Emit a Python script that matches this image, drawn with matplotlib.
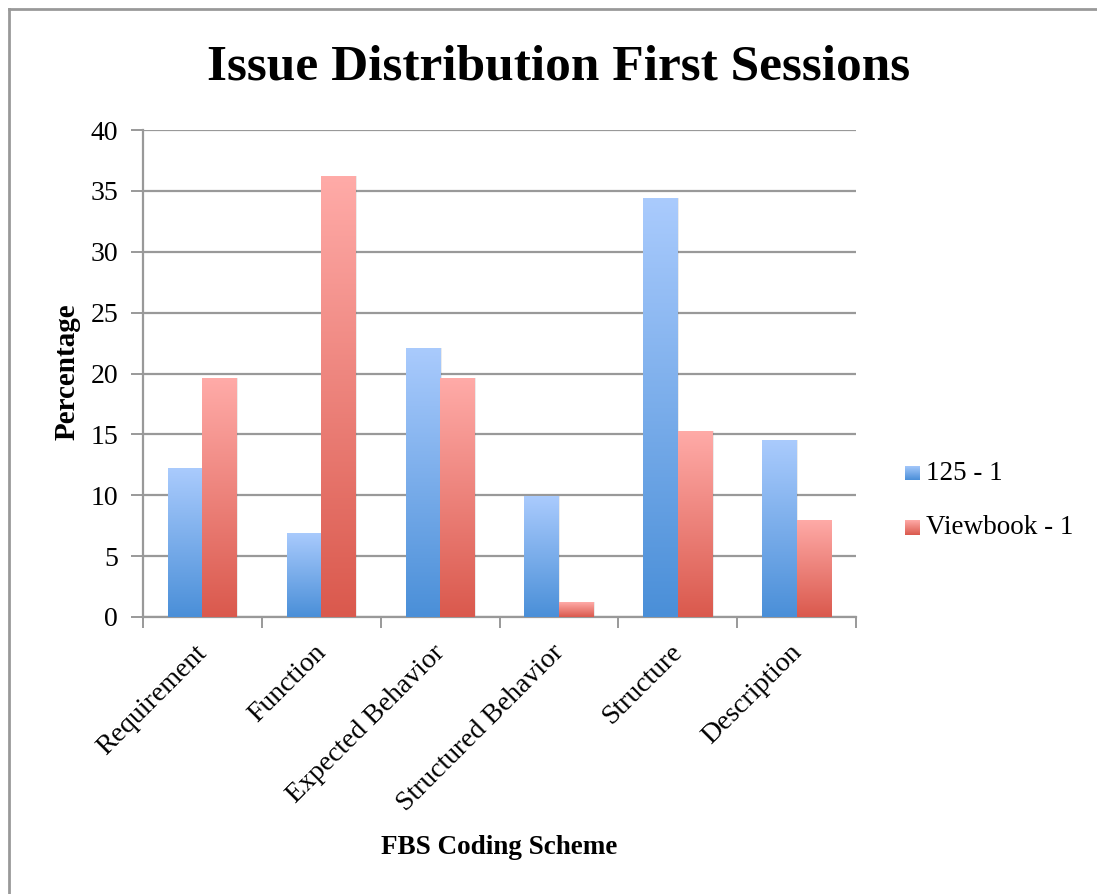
import numpy as np
import matplotlib
matplotlib.use('Agg')
import matplotlib.pyplot as plt
import matplotlib.transforms as mtransforms
from matplotlib.colors import LinearSegmentedColormap
from matplotlib.patches import Rectangle
from matplotlib.lines import Line2D

categories = ['Requirement', 'Function', 'Expected Behavior', 'Structured Behavior', 'Structure', 'Description']
series_125 = [12.2, 6.9, 22.1, 9.9, 34.4, 14.5]
series_viewbook = [19.6, 36.2, 19.6, 1.2, 15.3, 8.0]
series_names = ['125 - 1', 'Viewbook - 1']

plt.rcParams['font.family'] = ['Liberation Serif', 'DejaVu Serif']

blue_cmap = LinearSegmentedColormap.from_list('b', ['#4a8fd8', '#aacbfd'])
red_cmap = LinearSegmentedColormap.from_list('r', ['#da594d', '#ffaba8'])

fig = plt.figure(figsize=(10.97, 8.94), dpi=100)
ax = fig.add_axes([143 / 1097, 1 - 617 / 894, (856 - 143) / 1097, (617 - 130) / 894])

x = np.arange(len(categories))
w = 0.29
grad = np.linspace(0, 1, 256).reshape(-1, 1)

def gradient_bars(xs, vals, cmap, label):
    bars = ax.bar(xs, vals, w, color='none', edgecolor='none', label=label, zorder=3)
    for b in bars:
        x0, y0 = b.get_x(), b.get_y()
        bw, bh = b.get_width(), b.get_height()
        # soft shadow to the right
        ax.add_patch(Rectangle((x0 + 0.012, y0), bw, bh, color='#000000', alpha=0.08, zorder=2, lw=0))
        im = ax.imshow(grad, cmap=cmap, origin='lower', aspect='auto',
                       extent=(x0, x0 + bw, y0, y0 + bh), zorder=3)
        im.set_clip_path(b)
    return bars

gradient_bars(x - w / 2, series_125, blue_cmap, series_names[0])
gradient_bars(x + w / 2, series_viewbook, red_cmap, series_names[1])

ax.set_xlim(-0.5, len(categories) - 0.5)
ax.set_ylim(0, 40)
ax.set_yticks(range(0, 41, 5))
ax.yaxis.grid(True, color='#999999', linewidth=1.6, zorder=0)
ax.set_axisbelow(True)

# category labels, rotated 45 deg and anchored at their right end under each group
ax.set_xticks(x)
ax.set_xticklabels([''] * len(categories))
label_tf = ax.get_xaxis_transform() + mtransforms.ScaledTranslation(0.01, -0.32, fig.dpi_scale_trans)
for xi, name in zip(x, categories):
    ax.text(xi, 0, name, transform=label_tf, rotation=45, ha='right', va='center',
            rotation_mode='anchor', fontsize=20)
ax.set_xticks(np.arange(-0.5, len(categories)), minor=True)
ax.tick_params(axis='x', which='major', length=0)
ax.tick_params(axis='x', which='minor', length=8, width=1.4, color='#999999', direction='out')
ax.tick_params(axis='y', length=9, width=1.4, color='#999999', labelsize=20, pad=9)

for s in ['top', 'right']:
    ax.spines[s].set_visible(False)
for s in ['left', 'bottom']:
    ax.spines[s].set_color('#999999')
    ax.spines[s].set_linewidth(1.6)

fig.text(67 / 1097, 1 - 372 / 894, 'Percentage', ha='center', va='center', rotation=90,
         fontsize=21, fontweight='bold')
fig.text(499 / 1097, 1 - 848 / 894, 'FBS Coding Scheme', ha='center', va='center',
         fontsize=19.5, fontweight='bold')
fig.text(559 / 1097, 1 - 68 / 894, 'Issue Distribution First Sessions', ha='center', va='center',
         fontsize=37, fontweight='bold')

# legend
for i, (cmap, name) in enumerate([(blue_cmap, series_names[0]), (red_cmap, series_names[1])]):
    yc = 1 - (473 + i * 54) / 894
    lax = fig.add_axes([905 / 1097, yc - 7.5 / 894, 15 / 1097, 15 / 894])
    lax.imshow(grad, cmap=cmap, origin='lower', aspect='auto')
    lax.axis('off')
    fig.text(926 / 1097, yc, name, ha='left', va='center', fontsize=19.5)

# chart frame: only left and top edges are visible in the original
fig.add_artist(Line2D([8.5 / 1097, 8.5 / 1097], [0, 1 - 8.5 / 894], transform=fig.transFigure,
                      color='#999999', linewidth=2))
fig.add_artist(Line2D([8.5 / 1097, 1], [1 - 8.5 / 894, 1 - 8.5 / 894], transform=fig.transFigure,
                      color='#999999', linewidth=2))

fig.savefig('out.png', dpi=100)
